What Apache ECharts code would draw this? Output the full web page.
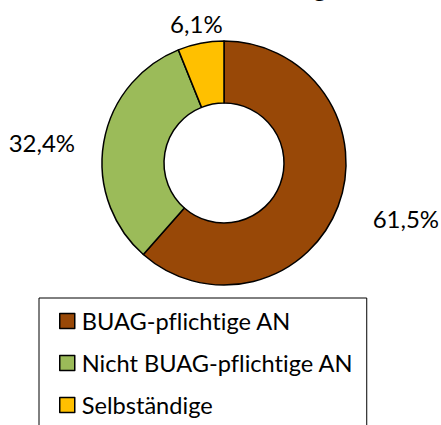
<!DOCTYPE html>
<html>
<head>
<meta charset="utf-8">
<script src="https://cdn.jsdelivr.net/npm/echarts@6/dist/echarts.min.js"></script>
<style>
html,body{margin:0;padding:0;background:#fff;}
#chart{width:441px;height:425px;}
#chart text{font-variant-ligatures:none;}
</style>
</head>
<body>
<div id="chart"></div>
<script>
// ---- data ----
const categories = ['BUAG-pflichtige AN', 'Nicht BUAG-pflichtige AN', 'Selbständige'];
const shares = [61.5, 32.4, 6.1];
const colors = ['#984807', '#9BBB59', '#FFC000'];
const titleText = 'Verteilung';

// ---- layout (not data) ----
const CX = 224, CY = 163, R_IN = 60, R_OUT = 122;
const LABEL_R = 145;
const labelNudge = [[13, 4], [-6, 4], [0, 3]];

const total = shares.reduce((a, b) => a + b, 0);
const cum = [];
let acc = 0;
shares.forEach(v => { cum.push(acc + v / 2); acc += v; });

const fmt = v => v.toFixed(1).replace('.', ',') + '%';

const chart = echarts.init(document.getElementById('chart'), null, {renderer: 'svg'});
chart.setOption({
  animation: false,
  backgroundColor: '#fff',
  graphic: [{
    type: 'text',
    right: 441 - 327,
    top: -26.5,
    style: {
      text: titleText,
      font: 'bold 26px Lato',
      fill: '#000'
    }
  }],
  legend: {
    orient: 'vertical',
    left: 39,
    top: 298,
    height: 118,
    padding: [10, 13, 30, 20],
    borderColor: '#000',
    borderWidth: 1,
    itemWidth: 15,
    itemHeight: 15,
    itemGap: 16,
    icon: 'rect',
    selectedMode: false,
    itemStyle: { borderColor: '#000', borderWidth: 1.5 },
    textStyle: { fontFamily: 'Lato', fontSize: 23.6, color: '#000', lineHeight: 26, padding: [0, 0, 0, 2] },
    data: categories
  },
  series: [{
    type: 'pie',
    center: [CX, CY],
    radius: [R_IN, R_OUT],
    startAngle: 90,
    clockwise: true,
    avoidLabelOverlap: false,
    itemStyle: { borderColor: '#000', borderWidth: 1.5 },
    emphasis: { disabled: true },
    label: {
      show: true,
      position: 'outside',
      formatter: p => fmt(p.value),
      fontFamily: 'Lato',
      fontSize: 24,
      color: '#000'
    },
    labelLine: { show: false },
    labelLayout: function (p) {
      const i = p.dataIndex;
      const phi = cum[i] / total * 2 * Math.PI;
      const dx = Math.sin(phi), dy = -Math.cos(phi);
      let align = 'center';
      if (dx > 0.5) align = 'left';
      else if (dx < -0.5) align = 'right';
      return {
        x: CX + LABEL_R * dx + labelNudge[i][0],
        y: CY + LABEL_R * dy + labelNudge[i][1],
        align: align,
        verticalAlign: 'middle'
      };
    },
    data: categories.map((c, i) => ({ name: c, value: shares[i], itemStyle: { color: colors[i] } }))
  }]
});
</script>
</body>
</html>
